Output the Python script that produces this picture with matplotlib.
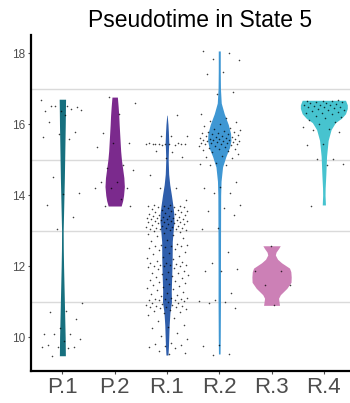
import numpy as np
import matplotlib
matplotlib.use("Agg")
import matplotlib.pyplot as plt

plt.rcParams['font.family'] = ['Liberation Sans', 'DejaVu Sans']

##
#    Data
##
groups = ["P.1", "P.2", "R.1", "R.2", "R.3", "R.4"]
colors = ["#17707F", "#7B2A8D", "#2F5EAB", "#3F97D3", "#CC80B6", "#47C3CF"]

# violin outlines: pseudotime level and relative density (half width)
p1_vy = [9.48, 10.0, 10.5, 11.0, 11.5, 12.0, 12.5, 13.0, 13.5, 14.0, 14.5, 15.0, 15.5, 16.0, 16.5, 16.71]
p1_vd = [3.0, 2.8, 2.4, 2.0, 1.6, 1.2, 0.9, 0.8, 1.2, 1.6, 2.0, 2.3, 2.6, 2.9, 3.1, 3.2]
p2_vy = [13.70, 13.85, 14.0, 14.25, 14.5, 14.75, 15.0, 15.25, 15.5, 15.75, 16.0, 16.25, 16.5, 16.77]
p2_vd = [6.5, 8.0, 8.9, 9.7, 9.2, 8.0, 6.8, 6.0, 5.5, 5.0, 4.5, 4.1, 3.5, 2.7]
r1_vy = [9.50, 9.75, 10.0, 10.35, 10.7, 11.0, 11.3, 11.75, 12.2, 12.7, 13.0, 13.25, 13.5, 13.7,
         14.0, 14.3, 14.6, 15.0, 15.3, 15.5, 15.8, 16.0, 16.26]
r1_vd = [1.0, 1.5, 1.8, 2.2, 3.0, 4.5, 4.3, 4.8, 5.2, 5.3, 6.2, 7.0, 6.8, 6.0,
         4.5, 2.8, 1.7, 1.2, 1.5, 1.8, 1.4, 1.0, 0.2]
r2_vy = [9.53, 10.0, 11.0, 12.0, 13.0, 14.0, 14.4, 14.8, 15.1, 15.35, 15.55, 15.75, 16.0, 16.3,
         16.6, 17.0, 17.5, 18.07]
r2_vd = [0.8, 1.0, 1.2, 1.2, 1.3, 1.4, 1.8, 3.3, 6.7, 10.3, 11.7, 11.3, 9.0, 5.0,
         2.0, 1.2, 1.0, 1.0]
r3_vy = [10.90, 11.0, 11.1, 11.2, 11.38, 11.55, 11.7, 11.85, 11.95, 12.1, 12.2, 12.32, 12.4, 12.5, 12.58]
r3_vd = [8.0, 7.5, 7.0, 8.8, 15.3, 19.5, 19.7, 19.3, 18.0, 10.0, 6.0, 3.8, 4.5, 7.0, 8.7]
r4_vy = [13.73, 14.0, 14.2, 14.6, 15.1, 15.55, 15.85, 16.05, 16.17, 16.3, 16.45, 16.55, 16.68]
r4_vd = [1.6, 1.2, 1.3, 2.0, 2.7, 4.3, 7.2, 11.5, 17.5, 21.7, 23.5, 23.5, 21.7]

# cell pseudotimes
p1_pts = [16.70, 16.53, 16.51, 16.50, 16.38, 16.37, 16.43, 16.53, 16.42, 16.27, 16.06, 15.79, 15.72,
          15.64, 15.59, 14.52, 14.07, 14.05, 13.72, 13.40, 13.04, 10.96, 10.74, 10.71, 10.51, 10.27,
          10.10, 10.09, 10.09, 9.96, 9.89, 9.77, 9.74, 9.73, 9.72, 9.69, 9.48]
p2_pts = [16.77, 16.59, 16.30, 15.75, 15.49, 15.49, 15.37, 14.86, 14.77, 14.71, 14.39, 14.37, 14.21,
          14.21, 14.21, 13.90, 13.70, 13.69]
r1_pts = [16.27, 15.68, 15.66, 15.67, 15.46, 15.44, 15.45, 15.47, 15.43, 15.45, 15.46, 15.44, 15.45,
          15.48, 15.42, 15.45, 15.23, 15.24, 15.08, 15.06, 14.57, 14.21, 14.20, 13.87,
          13.74, 13.72, 13.71, 13.70, 13.69, 13.68, 13.67, 13.66, 13.64, 13.62,
          13.60, 13.58, 13.57, 13.55, 13.53, 13.52, 13.50, 13.48, 13.47, 13.45,
          13.44, 13.42, 13.41, 13.40, 13.38, 13.37, 13.36, 13.35, 13.34, 13.33,
          13.32, 13.31, 13.30, 13.29, 13.28, 13.27, 13.26, 13.25, 13.24, 13.22,
          13.21, 13.20, 13.18, 13.17, 13.15, 13.14, 13.12, 13.10, 13.09, 13.08,
          13.07, 13.06, 13.05, 13.04, 13.03, 13.02, 13.00, 12.98, 12.95, 12.92,
          12.88, 12.85, 12.80, 12.75, 12.70,
          12.62, 12.60, 12.59, 12.58, 12.57, 12.56, 12.55, 12.52, 12.48, 12.45,
          12.40, 12.38, 12.35, 12.30, 12.27, 12.24, 12.20, 12.16, 12.12, 12.10,
          12.08, 12.06, 12.05, 12.04, 12.03, 12.02, 12.01, 12.00, 11.98, 11.95,
          11.92, 11.88, 11.85, 11.82, 11.80, 11.78, 11.75, 11.72, 11.70, 11.68,
          11.65, 11.62, 11.60, 11.56, 11.52, 11.50, 11.48, 11.45, 11.42, 11.38,
          11.35, 11.32, 11.28, 11.25, 11.22, 11.18, 11.15, 11.12, 11.10, 11.09,
          11.08, 11.07, 11.06, 11.05, 11.04, 11.02, 11.00, 10.98, 10.96, 10.94,
          10.92, 10.90, 10.88, 10.87, 10.86, 10.85, 10.84, 10.82, 10.80, 10.78,
          10.75, 10.72, 10.68, 10.62, 10.55,
          10.45, 10.35, 10.30, 10.25, 10.12, 10.05, 9.95, 9.85, 9.80, 9.78, 9.76, 9.72, 9.70,
          9.62, 9.55, 9.52]
r2_pts = [18.07, 18.00, 17.83, 17.81, 17.48, 17.42, 16.91, 16.87, 16.29, 16.19, 16.09, 16.08, 16.00,
          15.95, 15.90, 15.86, 15.85, 15.82, 15.80, 15.78, 15.76, 15.75, 15.73, 15.72, 15.70, 15.68,
          15.66, 15.65, 15.64, 15.63, 15.62, 15.60, 15.59, 15.58, 15.57, 15.56, 15.55, 15.54, 15.53,
          15.52, 15.51, 15.50, 15.49, 15.48, 15.47, 15.46, 15.45, 15.44, 15.42, 15.40, 15.38, 15.36,
          15.34, 15.32, 15.30, 15.28, 15.25, 15.22, 15.18, 15.12, 15.07, 15.06, 14.92, 14.88, 14.87,
          14.85, 14.38, 14.24, 14.22, 14.07, 14.06, 13.73, 13.65, 13.56, 13.45, 13.09, 13.05, 12.40,
          12.08, 11.93, 11.88, 11.87, 11.24, 11.05, 11.02, 11.00, 10.97, 10.83, 9.79, 9.76, 9.53, 9.51]
r3_pts = [12.58, 11.86, 11.86, 11.48, 11.48, 10.90]
r4_pts = [16.68, 16.67, 16.66, 16.65, 16.64, 16.62, 16.60, 16.59, 16.58, 16.56, 16.55, 16.54, 16.52,
          16.50, 16.49, 16.48, 16.46, 16.44, 16.42, 16.40, 16.38, 16.35, 16.32, 16.31, 16.28, 16.25,
          16.21, 16.18, 16.12, 16.07, 16.02, 15.92, 15.86, 15.85, 15.79, 15.45, 15.42, 15.03, 15.02,
          14.88, 14.87, 13.71]

vio_y = [p1_vy, p2_vy, r1_vy, r2_vy, r3_vy, r4_vy]
vio_d = [p1_vd, p2_vd, r1_vd, r2_vd, r3_vd, r4_vd]
pts = [p1_pts, p2_pts, r1_pts, r2_pts, r3_pts, r4_pts]

##
#    Figure
##
fig = plt.figure(figsize=(3.5, 4.03), dpi=100)
ax = fig.add_axes([31 / 350, 32 / 403, 319 / 350, 336 / 403])

dscale = 1 / 52.4      # density units -> category width
jit = 0.4              # jitter half width
for k in range(len(groups)):
    xc = k + 1
    y = np.array(vio_y[k])
    d = np.array(vio_d[k]) * dscale
    ax.fill_betweenx(y, xc - d, xc + d, color=colors[k], linewidth=0, zorder=2)
for k in range(len(groups)):
    xc = k + 1
    n = len(pts[k])
    off = ((np.arange(n) * 0.6180339887 + 0.37 * k) % 1 - 0.5) * 2 * jit
    ax.scatter(xc + off, pts[k], s=1.3, color="black", alpha=0.75, linewidths=0, zorder=3)

ax.set_xlim(0.4, 6.5)
ax.set_ylim(9.05, 18.52)
ax.set_xticks(range(1, len(groups) + 1))
ax.set_xticklabels(groups)
ax.set_yticks([10, 12, 14, 16, 18])
ax.set_yticks([11, 13, 15, 17], minor=True)
ax.yaxis.grid(True, which="minor", color="#DADADA", linewidth=1.0, zorder=0)
ax.tick_params(axis="y", which="minor", length=0)
ax.tick_params(axis="y", which="major", labelsize=8.5, labelcolor="#4D4D4D", length=2.5,
               width=0.8, color="#4D4D4D", pad=1.5)
ax.tick_params(axis="x", labelsize=16, labelcolor="#4D4D4D", length=2.5, width=0.8,
               color="#4D4D4D", pad=1.5)
for s in ["top", "right"]:
    ax.spines[s].set_visible(False)
for s in ["left", "bottom"]:
    ax.spines[s].set_linewidth(1.6)
    ax.spines[s].set_color("black")
ax.set_axisbelow(True)

ttl = ax.set_title("Pseudotime in State 5", fontsize=16.5, pad=6)
ttl.set_x(0.53)

plt.savefig("out.png", dpi=100)
